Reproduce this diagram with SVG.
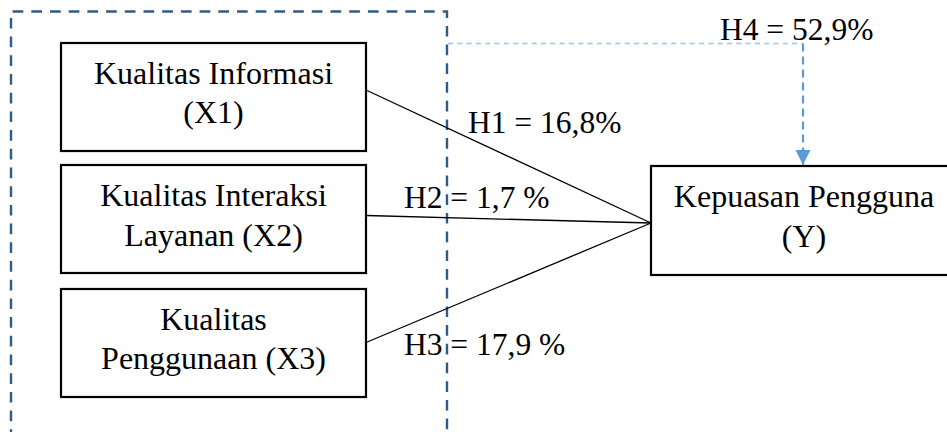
<svg xmlns="http://www.w3.org/2000/svg" width="947" height="432" viewBox="0 0 947 432">
<defs>
<style>
.box{fill:#fff;stroke:#000;stroke-width:2.2}
.t{font-family:'Liberation Serif','Times New Roman',serif;font-size:32px;fill:#000;text-anchor:middle}
.lbl{font-family:'Liberation Serif','Times New Roman',serif;font-size:31.5px;fill:#000}
.conn{stroke:#000;stroke-width:1.3;fill:none}
</style>
<marker id="arr" viewBox="0 0 15 16" refX="15" refY="7.5" markerWidth="15" markerHeight="16" markerUnits="userSpaceOnUse" orient="auto">
<path d="M0,0 L15,7.5 L0,15 Z" fill="#5b9bd5"/>
</marker>
</defs>
<rect width="947" height="432" fill="#fff"/>
<g id="group-boundary">
<path d="M11,440 L11,11.5 L447,11.5 L447,440" fill="none" stroke="#2f5b88" stroke-width="2.4" stroke-dasharray="10.7 8"/>
</g>
<g id="connectors">
<line class="conn" x1="366" y1="90" x2="651" y2="223"/>
<line class="conn" x1="366" y1="215.5" x2="651" y2="223"/>
<line class="conn" x1="366" y1="342.5" x2="651" y2="223"/>
<line x1="448" y1="43.5" x2="803" y2="43.5" stroke="#9dc3e6" stroke-width="1.6" stroke-dasharray="5 4.3"/>
<line x1="803" y1="43.5" x2="803" y2="165" stroke="#5b9bd5" stroke-width="2.2" stroke-dasharray="8 5" marker-end="url(#arr)"/>
</g>
<g id="node-x1">
<rect class="box" x="61" y="43" width="305" height="108"/>
<text class="t" x="213.5" y="84">Kualitas Informasi</text>
<text class="t" x="213.5" y="123">(X1)</text>
</g>
<g id="node-x2">
<rect class="box" x="61" y="165" width="305" height="108"/>
<text class="t" x="213.5" y="206">Kualitas Interaksi</text>
<text class="t" x="213.5" y="246">Layanan (X2)</text>
</g>
<g id="node-x3">
<rect class="box" x="61" y="289" width="305" height="108"/>
<text class="t" x="213.5" y="330">Kualitas</text>
<text class="t" x="213.5" y="369">Penggunaan (X3)</text>
</g>
<g id="node-y">
<rect class="box" x="651" y="166" width="310" height="109"/>
<text class="t" x="804" y="207">Kepuasan Pengguna</text>
<text class="t" x="804" y="247">(Y)</text>
</g>
<g id="labels">
<text class="lbl" x="468" y="133">H1 = 16,8%</text>
<text class="lbl" x="404" y="208">H2 = 1,7 %</text>
<text class="lbl" x="404" y="355">H3 = 17,9 %</text>
<text class="lbl" x="720" y="40">H4 = 52,9%</text>
</g>
</svg>
